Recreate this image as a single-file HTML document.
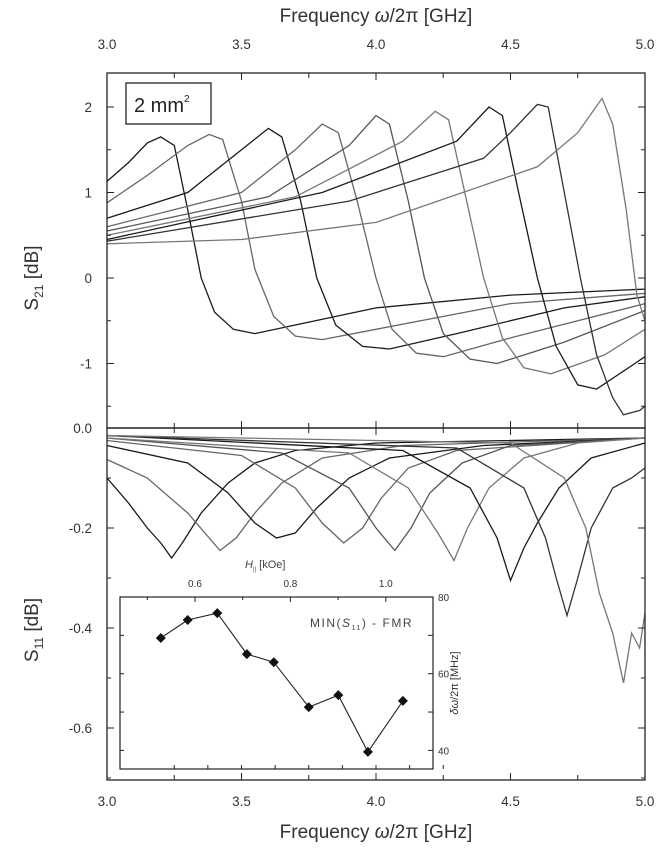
<!DOCTYPE html>
<html><head><meta charset="utf-8"><style>
html,body{margin:0;padding:0;background:#fff;}
svg{display:block;font-family:"Liberation Sans",Arial,sans-serif;}
</style></head><body>
<svg id="chart" width="664" height="853" viewBox="0 0 664 853">
<rect x="0" y="0" width="664" height="853" fill="#fff"/>
<g id="g"></g>
</svg>
<script>
// ---------- data ----------
const xTicks = [3.0, 3.5, 4.0, 4.5, 5.0];
const s21Ticks = [2, 1, 0, -1];
const s11Ticks = [0.0, -0.2, -0.4, -0.6];
const s21Curves = [
 [[3.0,1.13],[3.08,1.35],[3.15,1.58],[3.2,1.65],[3.25,1.55],[3.3,0.8],[3.35,0.0],[3.4,-0.4],[3.47,-0.6],[3.55,-0.65],[3.7,-0.55],[4.0,-0.35],[4.5,-0.2],[5.0,-0.13]],
 [[3.0,0.88],[3.15,1.2],[3.3,1.55],[3.38,1.68],[3.43,1.62],[3.5,0.9],[3.55,0.1],[3.62,-0.45],[3.7,-0.68],[3.8,-0.72],[4.0,-0.6],[4.5,-0.3],[5.0,-0.18]],
 [[3.0,0.7],[3.3,1.0],[3.5,1.5],[3.6,1.75],[3.65,1.65],[3.72,0.9],[3.78,0.0],[3.85,-0.55],[3.95,-0.8],[4.05,-0.83],[4.3,-0.65],[4.7,-0.35],[5.0,-0.22]],
 [[3.0,0.6],[3.5,1.0],[3.7,1.5],[3.8,1.8],[3.86,1.7],[3.93,0.9],[4.0,0.0],[4.06,-0.6],[4.15,-0.88],[4.25,-0.92],[4.5,-0.7],[5.0,-0.3]],
 [[3.0,0.55],[3.6,0.95],[3.9,1.55],[4.0,1.9],[4.05,1.8],[4.12,0.9],[4.18,0.0],[4.25,-0.65],[4.35,-0.95],[4.45,-1.0],[4.7,-0.75],[5.0,-0.38]],
 [[3.0,0.5],[3.7,0.95],[4.1,1.6],[4.22,1.95],[4.27,1.85],[4.33,1.0],[4.4,0.0],[4.47,-0.7],[4.55,-1.05],[4.65,-1.12],[4.85,-0.9],[5.0,-0.6]],
 [[3.0,0.45],[3.8,1.0],[4.3,1.6],[4.42,2.0],[4.47,1.9],[4.53,1.0],[4.6,0.0],[4.67,-0.8],[4.75,-1.25],[4.82,-1.3],[5.0,-0.92]],
 [[3.0,0.43],[3.9,0.9],[4.4,1.4],[4.5,1.7],[4.6,2.03],[4.64,2.0],[4.7,1.0],[4.76,0.0],[4.82,-0.9],[4.88,-1.4],[4.92,-1.6],[4.98,-1.55],[5.0,-1.5]],
 [[3.0,0.40],[3.5,0.45],[4.0,0.65],[4.6,1.3],[4.75,1.7],[4.84,2.1],[4.88,1.8],[4.93,0.8],[4.97,-0.2],[5.0,-0.5]]
];
const s11Curves = [
 [[3.0,-0.10],[3.08,-0.15],[3.15,-0.2],[3.2,-0.23],[3.24,-0.26],[3.28,-0.23],[3.35,-0.17],[3.45,-0.11],[3.55,-0.07],[3.7,-0.045],[4.0,-0.03],[5.0,-0.02]],
 [[3.0,-0.063],[3.15,-0.1],[3.3,-0.17],[3.38,-0.22],[3.42,-0.245],[3.48,-0.22],[3.55,-0.17],[3.65,-0.11],[3.8,-0.06],[4.1,-0.035],[5.0,-0.02]],
 [[3.0,-0.035],[3.3,-0.07],[3.45,-0.13],[3.55,-0.19],[3.63,-0.22],[3.7,-0.21],[3.78,-0.16],[3.9,-0.1],[4.05,-0.06],[4.4,-0.035],[5.0,-0.02]],
 [[3.0,-0.025],[3.5,-0.055],[3.7,-0.12],[3.8,-0.19],[3.88,-0.23],[3.95,-0.2],[4.02,-0.14],[4.12,-0.08],[4.3,-0.045],[5.0,-0.02]],
 [[3.0,-0.02],[3.65,-0.05],[3.9,-0.12],[4.0,-0.2],[4.07,-0.245],[4.13,-0.2],[4.2,-0.13],[4.32,-0.07],[4.5,-0.035],[5.0,-0.02]],
 [[3.0,-0.02],[3.9,-0.05],[4.12,-0.12],[4.23,-0.21],[4.29,-0.265],[4.34,-0.2],[4.42,-0.12],[4.55,-0.06],[4.75,-0.03],[5.0,-0.02]],
 [[3.0,-0.015],[4.1,-0.045],[4.35,-0.12],[4.45,-0.22],[4.5,-0.305],[4.55,-0.24],[4.6,-0.19],[4.68,-0.12],[4.8,-0.06],[5.0,-0.03]],
 [[3.0,-0.015],[4.3,-0.04],[4.55,-0.12],[4.63,-0.22],[4.67,-0.3],[4.71,-0.375],[4.75,-0.3],[4.8,-0.2],[4.88,-0.12],[4.95,-0.1],[5.0,-0.08]],
 [[3.0,-0.015],[4.5,-0.03],[4.7,-0.1],[4.78,-0.2],[4.83,-0.33],[4.88,-0.41],[4.92,-0.51],[4.95,-0.41],[4.98,-0.44],[5.0,-0.37]]
];
const insetFreq = [3.20, 3.30, 3.41, 3.52, 3.62, 3.75, 3.86, 3.97, 4.10];
const insetWidth = [69.3, 74.0, 75.8, 65.1, 63.0, 51.3, 54.4, 39.6, 52.9];
const insetYTicks = [80, 60, 40];
const hTicks = [0.6, 0.8, 1.0];

// ---------- scales ----------
const X0=107, X1=645;
const fx = f => X0 + (f-3.0)/(2.0)*(X1-X0);
const T0=73, B0=428;
const y21 = v => 278 - v*85.5;
const y11 = v => 428 - v*500;
const IL=120, IR=433, IT=597, IB=769;
const yIn = m => 597 + (80-m)*3.835;
const hx = h => 195 + (h-0.6)*477;

const NS="http://www.w3.org/2000/svg";
const g=document.getElementById('g');
function el(tag,attrs,parent){const e=document.createElementNS(NS,tag);for(const k in attrs)e.setAttribute(k,attrs[k]);(parent||g).appendChild(e);return e;}
function txt(x,y,s,size,anchor,parent){const t=el('text',{x:x,y:y,'font-size':size,'text-anchor':anchor||'middle',fill:'#333'},parent);t.textContent=s;return t;}

const cols=['#1a1a1a','#666','#1a1a1a','#666','#555','#777','#1a1a1a','#333','#777'];
s21Curves.forEach((c,i)=>{
  const p=el('polyline',{points:c.map(d=>fx(d[0]).toFixed(1)+','+y21(d[1]).toFixed(1)).join(' '),fill:'none',stroke:cols[i],'stroke-width':1.3});
  
  
});
s11Curves.forEach((c,i)=>{
  const p=el('polyline',{points:c.map(d=>fx(d[0]).toFixed(1)+','+y11(d[1]).toFixed(1)).join(' '),fill:'none',stroke:cols[i],'stroke-width':1.3});
  
  
});

el('rect',{x:X0,y:T0,width:X1-X0,height:B0-T0,fill:'none',stroke:'#222','stroke-width':1.3,});
el('rect',{x:X0,y:B0,width:X1-X0,height:780-B0,fill:'none',stroke:'#222','stroke-width':1.3,});

for(let f=3.0;f<=5.001;f+=0.25){
  const x=fx(f), L=(Math.abs(f*2-Math.round(f*2))<1e-6)?7:5;
  el('line',{x1:x,y1:T0,x2:x,y2:T0+L,stroke:'#222'});
  el('line',{x1:x,y1:B0,x2:x,y2:B0-L,stroke:'#222'});
  el('line',{x1:x,y1:B0,x2:x,y2:B0+L,stroke:'#222'});
  el('line',{x1:x,y1:780,x2:x,y2:780-L,stroke:'#222'});
}
xTicks.forEach(f=>{
  const a=txt(fx(f),49,f.toFixed(1),13.5);  
  const b=txt(fx(f),806,f.toFixed(1),13.5);  
});
for(let v=-1.5;v<=2.001;v+=0.5){const y=y21(v),L=Number.isInteger(v)?7:4;
  el('line',{x1:X0,y1:y,x2:X0+L,y2:y,stroke:'#222'});el('line',{x1:X1,y1:y,x2:X1-L,y2:y,stroke:'#222'});}
s21Ticks.forEach(v=>{const t=txt(92,y21(v)+5,String(v),13.5,'end');});
for(let v=-0.7;v<=0.001;v+=0.1){const y=y11(v),L=(Math.round(v*10)%2===0)?7:4;
  el('line',{x1:X0,y1:y,x2:X0+L,y2:y,stroke:'#222'});el('line',{x1:X1,y1:y,x2:X1-L,y2:y,stroke:'#222'});}
s11Ticks.forEach(v=>{const t=txt(92,y11(v)+5,v.toFixed(1),13.5,'end');});

let t=el('text',{x:376,y:22,'font-size':19,'text-anchor':'middle',fill:'#333',});
t.innerHTML='Frequency <tspan font-style="italic">ω</tspan>/2π  [GHz]';
t=el('text',{x:376,y:838,'font-size':19,'text-anchor':'middle',fill:'#333',});
t.innerHTML='Frequency <tspan font-style="italic">ω</tspan>/2π  [GHz]';
t=el('text',{transform:'translate(38,278) rotate(-90)','font-size':19,'text-anchor':'middle',fill:'#333',});
t.innerHTML='S<tspan font-size="12" dy="5">21</tspan><tspan dy="-5"> [dB]</tspan>';
t=el('text',{transform:'translate(38,630) rotate(-90)','font-size':19,'text-anchor':'middle',fill:'#333',});
t.innerHTML='S<tspan font-size="12" dy="5">11</tspan><tspan dy="-5"> [dB]</tspan>';

el('rect',{x:126,y:83,width:85,height:41,fill:'#fff',stroke:'#222','stroke-width':1.3,});
t=el('text',{x:134,y:112,'font-size':20,fill:'#222',});
t.innerHTML='2 mm<tspan font-size="10" dy="-10">2</tspan>';

el('rect',{x:IL,y:IT,width:IR-IL,height:IB-IT,fill:'#fff',stroke:'#222','stroke-width':1.2,});
for(let m=40;m<=80;m+=10){const y=yIn(m);el('line',{x1:IR,y1:y,x2:IR-5,y2:y,stroke:'#222'});el('line',{x1:IL,y1:y,x2:IL+4,y2:y,stroke:'#222'});}
insetYTicks.forEach(m=>{const a=txt(IR+5,yIn(m)+4,String(m),10,'start');});
for(let h=0.5;h<=1.201;h+=0.1){const x=hx(h);if(x>IL&&x<IR){el('line',{x1:x,y1:IT,x2:x,y2:IT+(Math.round(h*10)%2===0?5:3),stroke:'#222'});}}
for(let f=3.25;f<=4.3;f+=0.125){const x=fx(f);el('line',{x1:x,y1:IB,x2:x,y2:IB-4,stroke:'#222'});}
hTicks.forEach(h=>{const a=txt(hx(h),587,h.toFixed(1),10);});
t=el('text',{x:245,y:568,'font-size':11,fill:'#444',});
t.innerHTML='<tspan font-style="italic">H</tspan><tspan font-size="6" dy="3">||</tspan><tspan dy="-3"> [kOe]</tspan>';
t=el('text',{transform:'translate('+(IR+25)+','+((IT+IB)/2)+') rotate(-90)','font-size':11,'text-anchor':'middle',fill:'#333',});
t.innerHTML='<tspan font-style="italic">δω</tspan>/2π [MHz]';
t=el('text',{x:413,y:627,'font-size':12,'text-anchor':'end',fill:'#444','letter-spacing':'1.5',});
t.innerHTML='MIN(<tspan font-style="italic">S</tspan><tspan font-size="7" dy="3">11</tspan><tspan dy="-3">) - FMR</tspan>';
el('polyline',{points:insetFreq.map((f,i)=>fx(f).toFixed(1)+','+yIn(insetWidth[i]).toFixed(1)).join(' '),fill:'none',stroke:'#222','stroke-width':1.1,});
insetFreq.forEach((f,i)=>{
  const x=fx(f),y=yIn(insetWidth[i]);
  const d=el('polygon',{points:`${x},${y-5} ${x+5},${y} ${x},${y+5} ${x-5},${y}`,fill:'#111'});
  
  
});
</script>
</body></html>
